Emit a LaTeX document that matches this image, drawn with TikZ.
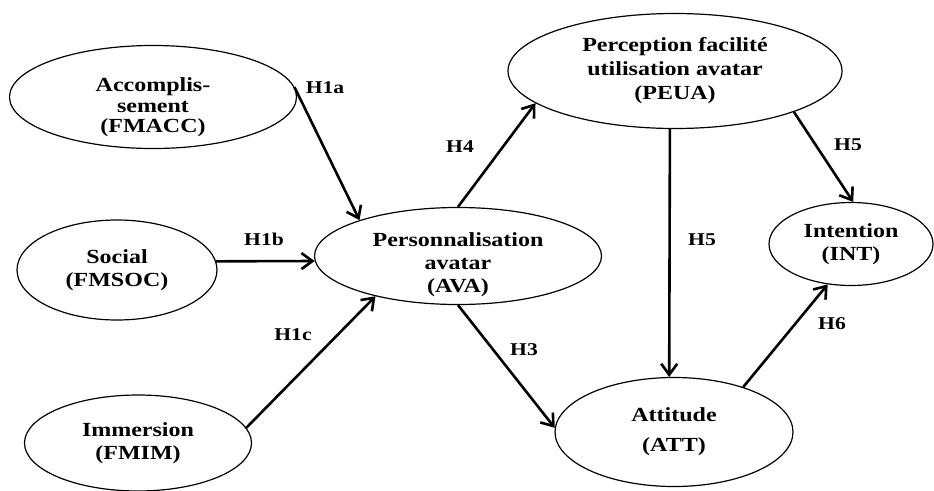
\documentclass[tikz,border=0pt]{standalone}
\usepackage{fontspec}
\setmainfont{Liberation Serif}[FakeStretch=1.2]
\usetikzlibrary{shapes.geometric,arrows.meta}

\begin{document}
\begin{tikzpicture}[x=1pt,y=-1pt,
fact/.style 2 args={ellipse,draw,line width=1.2pt,inner sep=0pt,align=center,minimum width=#1pt,minimum height=#2pt,font=\fontsize{20}{23}\selectfont\bfseries},
sunk/.style={text height=#1,inner ysep=-10pt},
hyp/.style={line width=2.6pt,-{Straight Barb[length=11pt,width=16pt]}},
hlab/.style={inner sep=0pt,font=\fontsize{18}{20}\selectfont\bfseries}]
\useasboundingbox (0,0) rectangle (934,490);
% facteurs
\node[fact={287}{103},sunk=76pt,font=\fontsize{20}{20.5}\selectfont\bfseries] (fmacc) at (153,97) {Accomplis-\\sement\\(FMACC)};
\node[fact={200}{100}] (fmsoc) at (117,270) {Social\\(FMSOC)};
\node[fact={227}{96}] (fmim) at (138,443) {Immersion\\(FMIM)};
\node[fact={287}{97},sunk=78pt] (ava) at (458,256) {Personnalisation\\avatar\\(AVA)};
\node[fact={334}{115},font=\fontsize{20}{24}\selectfont\bfseries] (peua) at (675,71) {Perception facilité\\utilisation avatar\\(PEUA)};
\node[fact={238}{109},font=\fontsize{20}{30}\selectfont\bfseries] (att) at (674,432) {Attitude\\(ATT)};
\node[fact={164}{83}] (int) at (851,244) {Intention\\(INT)};
% hypotheses
\draw[hyp] (fmacc.4) -- (ava.160);
\draw[hyp] (fmsoc.5) -- (ava.182);
\draw[hyp] (fmim.8) -- (ava.206);
\draw[hyp] (ava.north) -- (peua.193);
\draw[hyp] (ava.south) -- (att.178);
\draw[hyp] (peua.265) -- (att.95);
\draw[hyp] (peua.341) -- (int.87);
\draw[hyp] (att.33) -- (int.240);
\foreach \n/\x/\y/\t in %
{h1a/325/88/H1a,h1b/264/239/H1b,h1c/293/335/H1c,h4/460/147/H4,h3/524/350/H3,h5a/702/240/H5,h5b/848/145/H5,h6/832/324/H6} {
   \node[hlab] (\n) at (\x,\y) {\t};
}
\end{tikzpicture}
\end{document}
